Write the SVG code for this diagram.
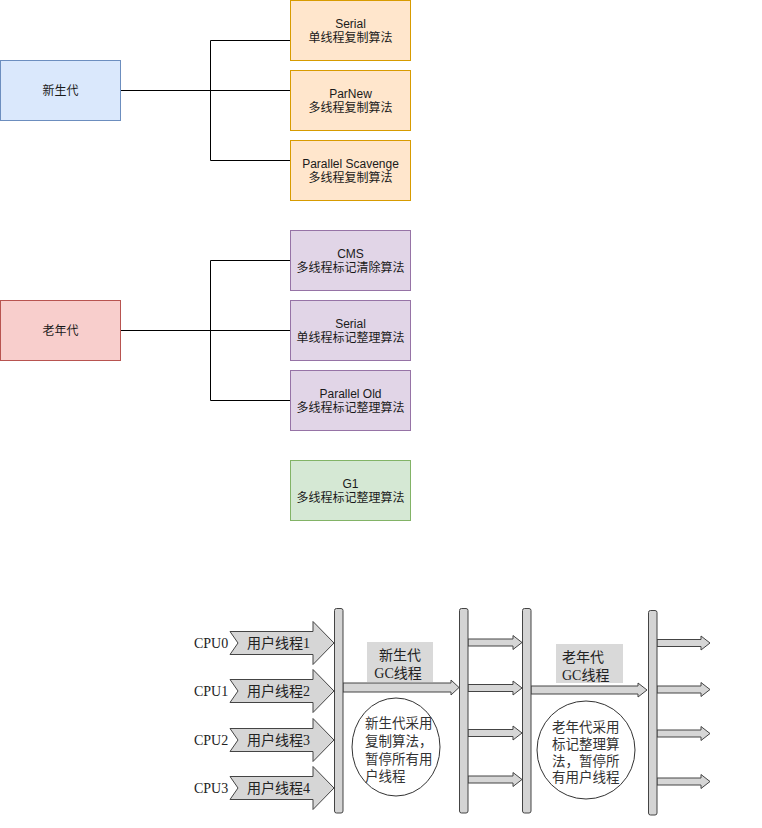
<svg xmlns="http://www.w3.org/2000/svg" width="762" height="828" viewBox="0 0 762 828">
<style>
.t{font-family:"Liberation Sans","Noto Sans CJK SC",sans-serif;font-size:12px;fill:#1a1a1a;text-anchor:middle}
.conn{fill:none;stroke:#000;stroke-width:1}
.young{fill:#dae8fc;stroke:#6c8ebf}
.old{fill:#f8cecc;stroke:#b85450}
.ora{fill:#ffe6cc;stroke:#d79b00}
.pur{fill:#e1d5e7;stroke:#9673a6}
.grn{fill:#d5e8d4;stroke:#82b366}
.s{font-family:"Liberation Serif","Noto Sans CJK SC",serif;font-size:14px;fill:#222}
.sc{font-family:"Liberation Serif","Noto Sans CJK SC",serif;font-size:13.5px;fill:#333}
.bar{fill:#d4d4d4;stroke:#444;stroke-width:1}
.arr{fill:#d6d6d6;stroke:#444;stroke-width:1;stroke-linejoin:miter}
.lbl{fill:#d9d9d9}
.circ{fill:#fff;stroke:#333;stroke-width:1}
</style>
<rect width="762" height="828" fill="#fff"/>
<g id="connectors">
<path class="conn" d="M120.5 90.5H290.5M210.5 40.5V160.5M210.5 40.5H290.5M210.5 160.5H290.5"/>
<path class="conn" d="M120.5 330.5H290.5M210.5 260.5V400.5M210.5 260.5H290.5M210.5 400.5H290.5"/>
</g>
<g id="young"><rect class="young" x="0.5" y="60.5" width="120" height="60"/><text class="t" x="60.5" y="95">新生代</text></g>
<g id="serial-y"><rect class="ora" x="290.5" y="0.5" width="120" height="60"/><text class="t" x="350.5" y="28">Serial</text><text class="t" x="350.5" y="42">单线程复制算法</text></g>
<g id="parnew"><rect class="ora" x="290.5" y="70.5" width="120" height="60"/><text class="t" x="350.5" y="98">ParNew</text><text class="t" x="350.5" y="112">多线程复制算法</text></g>
<g id="ps"><rect class="ora" x="290.5" y="140.5" width="120" height="60"/><text class="t" x="350.5" y="168">Parallel Scavenge</text><text class="t" x="350.5" y="182">多线程复制算法</text></g>
<g id="old"><rect class="old" x="0.5" y="300.5" width="120" height="60"/><text class="t" x="60.5" y="335">老年代</text></g>
<g id="cms"><rect class="pur" x="290.5" y="230.5" width="120" height="60"/><text class="t" x="350.5" y="258">CMS</text><text class="t" x="350.5" y="272">多线程标记清除算法</text></g>
<g id="serial-o"><rect class="pur" x="290.5" y="300.5" width="120" height="60"/><text class="t" x="350.5" y="328">Serial</text><text class="t" x="350.5" y="342">单线程标记整理算法</text></g>
<g id="po"><rect class="pur" x="290.5" y="370.5" width="120" height="60"/><text class="t" x="350.5" y="398">Parallel Old</text><text class="t" x="350.5" y="412">多线程标记整理算法</text></g>
<g id="g1"><rect class="grn" x="290.5" y="460.5" width="120" height="60"/><text class="t" x="350.5" y="488">G1</text><text class="t" x="350.5" y="502">多线程标记整理算法</text></g>

<g id="gc-figure">
<g id="user-threads">
<polygon class="arr" points="230,631.5 313,631.5 313,621.5 334,643 313,664.5 313,654.5 230,654.5 238,643"/>
<polygon class="arr" points="230,679.5 313,679.5 313,669.5 334,691 313,712.5 313,702.5 230,702.5 238,691"/>
<polygon class="arr" points="230,728.5 313,728.5 313,718.5 334,740 313,761.5 313,751.5 230,751.5 238,740"/>
<polygon class="arr" points="230,776.5 313,776.5 313,766.5 334,788 313,809.5 313,799.5 230,799.5 238,788"/>
<text class="s" x="194" y="648">CPU0</text>
<text class="s" x="194" y="696">CPU1</text>
<text class="s" x="194" y="745">CPU2</text>
<text class="s" x="194" y="793">CPU3</text>
<text class="s" x="247" y="648" fill="#333">用户线程1</text>
<text class="s" x="247" y="696" fill="#333">用户线程2</text>
<text class="s" x="247" y="745" fill="#333">用户线程3</text>
<text class="s" x="247" y="793" fill="#333">用户线程4</text>
</g>
<g id="gc-arrows">
<polygon class="arr" points="343,683 451,683 451,680 459,687.5 451,695 451,692 343,692"/>
<polygon class="arr" points="531,686 638,686 638,683 647,690 638,697 638,694 531,694"/>
<polygon class="arr" points="468,639 513,639 513,635.5 522,642.5 513,649.5 513,646 468,646"/>
<polygon class="arr" points="468,684.5 513,684.5 513,681 522,688 513,695 513,691.5 468,691.5"/>
<polygon class="arr" points="468,729.5 513,729.5 513,726 522,733 513,740 513,736.5 468,736.5"/>
<polygon class="arr" points="468,776 513,776 513,772.5 522,779.5 513,786.5 513,783 468,783"/>
<polygon class="arr" points="657,639.5 701,639.5 701,636 710,643 701,650 701,646.5 657,646.5"/>
<polygon class="arr" points="657,686 701,686 701,682.5 710,689.5 701,696.5 701,693 657,693"/>
<polygon class="arr" points="657,730 701,730 701,726.5 710,733.5 701,740.5 701,737 657,737"/>
<polygon class="arr" points="657,778 701,778 701,774.5 710,781.5 701,788.5 701,785 657,785"/>
</g>
<g id="bars">
<rect class="bar" x="334.5" y="608.5" width="8.5" height="204.5" rx="2"/>
<rect class="bar" x="459.5" y="608.5" width="8.5" height="204.5" rx="2"/>
<rect class="bar" x="522.5" y="608.5" width="8.5" height="204.5" rx="2"/>
<rect class="bar" x="648.5" y="610.5" width="8.5" height="204.5" rx="2"/>
</g>
<g id="young-gc-label">
<rect class="lbl" x="367" y="642" width="66" height="40"/>
<text class="s" x="400" y="660" text-anchor="middle" fill="#333">新生代</text>
<text class="s" x="398" y="678" text-anchor="middle" fill="#333">GC线程</text>
</g>
<g id="old-gc-label">
<rect class="lbl" x="556" y="644" width="67" height="39"/>
<text class="s" x="562" y="662" fill="#333">老年代</text>
<text class="s" x="562" y="680" fill="#333">GC线程</text>
</g>
<g id="young-note">
<ellipse class="circ" cx="396" cy="747" rx="44" ry="49"/>
<text class="sc" x="365" y="728">新生代采用</text>
<text class="sc" x="365" y="746">复制算法，</text>
<text class="sc" x="365" y="764">暂停所有用</text>
<text class="sc" x="365" y="781">户线程</text>
</g>
<g id="old-note">
<ellipse class="circ" cx="586" cy="750" rx="49" ry="49"/>
<text class="sc" x="552" y="732">老年代采用</text>
<text class="sc" x="552" y="749">标记整理算</text>
<text class="sc" x="552" y="766">法，暂停所</text>
<text class="sc" x="552" y="782">有用户线程</text>
</g>
</g>
</svg>
